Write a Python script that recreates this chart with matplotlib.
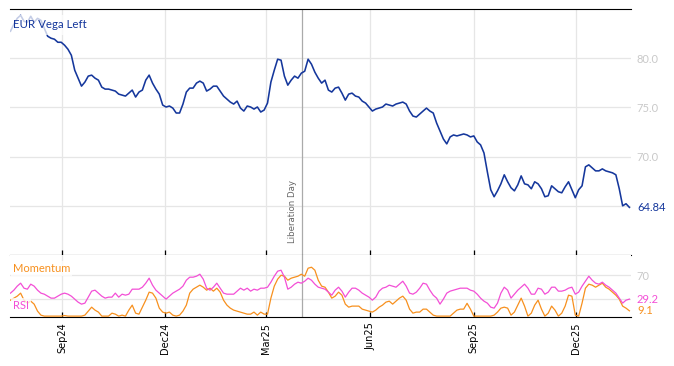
import matplotlib
matplotlib.use("Agg")
import matplotlib.pyplot as plt
import matplotlib.dates as mdates
import matplotlib.transforms as mtransforms
import pandas as pd
import numpy as np

# ---------------- data (one value every 3 days) ----------------
start_date = "2024-07-17"
n_points = 184

vega = [82.74, 83.44, 84.05, 84.36, 83.75, 83.65, 84.26, 83.65, 84.05, 83.85,
        83.04, 82.23, 82.03, 81.93, 81.62, 81.62, 81.32, 80.91, 80.30, 78.78,
        77.97, 77.16, 77.57, 78.18, 78.28, 77.97, 77.77, 77.06, 76.86, 76.86,
        76.76, 76.66, 76.35, 76.25, 76.15, 76.45, 76.76, 76.05, 76.56, 76.76,
        77.77, 78.28, 77.47, 76.86, 76.35, 75.24, 75.04, 75.14, 74.93, 74.43,
        74.43, 75.34, 76.56, 76.96, 76.96, 77.47, 77.67, 77.47, 76.66, 76.86,
        77.16, 77.16, 76.66, 76.15, 75.85, 75.54, 75.34, 75.64, 74.93, 74.63,
        75.14, 75.04, 74.83, 75.04, 74.53, 74.73, 75.44, 77.57, 78.78, 79.90,
        79.80, 78.18, 77.26, 77.77, 78.18, 77.97, 78.48, 78.68, 79.90, 79.39,
        78.58, 77.97, 77.47, 77.77, 76.76, 76.56, 76.96, 77.06, 76.45, 75.74,
        76.35, 76.45, 76.15, 76.05, 75.64, 75.44, 75.04, 74.63, 74.83, 74.93,
        75.04, 75.34, 75.24, 75.14, 75.34, 75.44, 75.54, 75.34, 74.63, 74.12,
        74.02, 74.33, 74.63, 74.93, 74.63, 74.43, 73.41, 72.60, 71.79, 71.29,
        72.00, 72.20, 72.10, 72.20, 72.30, 72.20, 72.00, 72.10, 71.49, 71.19,
        70.37, 68.45, 66.63, 65.92, 66.52, 67.23, 68.15, 67.44, 66.83, 66.52,
        67.13, 68.04, 67.23, 67.13, 66.73, 67.44, 67.23, 66.73, 65.92, 66.02,
        67.03, 66.73, 66.43, 66.32, 66.93, 67.44, 66.63, 65.82, 66.63, 67.03,
        68.96, 69.16, 68.85, 68.55, 68.55, 68.75, 68.55, 68.45, 68.35, 68.15,
        66.73, 65.00, 65.21, 64.84]

rsi = [39.5, 44.6, 51.5, 56.6, 48.0, 46.3, 54.9, 51.5, 44.6, 39.5,
       37.7, 34.3, 30.9, 30.9, 34.3, 37.7, 39.5, 37.7, 34.3, 29.2,
       24.0, 20.6, 22.3, 32.6, 42.9, 44.6, 39.5, 34.3, 30.9, 32.6,
       32.6, 39.5, 32.6, 37.7, 36.0, 37.7, 46.3, 46.3, 46.3, 49.7,
       56.6, 65.2, 53.2, 44.6, 39.5, 34.3, 29.2, 34.3, 39.5, 42.9,
       46.3, 51.5, 61.7, 66.9, 66.9, 68.6, 72.0, 63.5, 48.0, 44.6,
       49.7, 56.6, 48.0, 39.5, 37.7, 37.7, 37.7, 42.9, 48.0, 44.6,
       48.0, 42.9, 46.3, 44.6, 48.0, 48.0, 49.7, 58.3, 68.6, 77.2,
       78.9, 66.9, 46.3, 49.7, 54.9, 58.3, 56.6, 60.0, 65.2, 61.7,
       54.9, 49.7, 48.0, 46.3, 41.2, 36.0, 44.6, 49.7, 42.9, 32.6,
       41.2, 48.0, 48.0, 44.6, 39.5, 36.0, 32.6, 27.4, 32.6, 42.9,
       48.0, 49.7, 53.2, 51.5, 49.7, 54.9, 60.0, 51.5, 39.5, 37.7,
       41.2, 48.0, 56.6, 54.9, 44.6, 36.0, 30.9, 20.6, 29.2, 39.5,
       42.9, 44.6, 46.3, 48.0, 48.0, 48.0, 44.6, 42.9, 37.7, 30.9,
       25.7, 22.3, 15.4, 13.7, 22.3, 39.5, 49.7, 44.6, 30.9, 37.7,
       44.6, 49.7, 54.9, 48.0, 37.7, 37.7, 48.0, 46.3, 37.7, 41.2,
       49.7, 49.7, 42.9, 42.9, 44.6, 48.0, 49.7, 37.7, 41.2, 51.5,
       60.0, 68.6, 61.7, 56.6, 54.9, 58.3, 53.2, 49.7, 44.6, 39.5,
       30.9, 22.3, 27.4, 29.2]

momentum = [27.4, 30.9, 34.3, 39.5, 27.4, 22.3, 25.7, 20.6, 8.6, 1.7,
            0.0, 0.0, 0.0, 0.0, 0.0, 0.0, 1.0, 0.0, 0.0, 0.0,
            0.0, 0.0, 1.7, 8.6, 15.4, 10.3, 6.9, 0.0, 0.0, 0.0,
            5.1, 3.4, 0.0, 1.7, 0.0, 10.3, 18.9, 5.1, 3.4, 15.4,
            27.4, 41.2, 39.5, 30.9, 13.7, 6.9, 5.1, 6.9, 1.7, 0.0,
            1.7, 8.6, 18.9, 39.5, 46.3, 49.7, 53.2, 49.7, 44.6, 48.0,
            42.9, 48.0, 41.2, 27.4, 18.9, 13.7, 10.3, 8.6, 6.9, 5.1,
            3.4, 3.4, 6.9, 1.7, 6.9, 3.4, 3.4, 30.9, 51.5, 63.5,
            70.3, 68.6, 61.7, 65.2, 66.9, 68.6, 72.0, 68.6, 82.3, 84.0,
            78.9, 61.7, 51.5, 49.7, 41.2, 30.9, 34.3, 41.2, 36.0, 20.6,
            15.4, 17.2, 17.2, 17.2, 12.0, 10.3, 8.6, 6.9, 10.3, 15.4,
            18.9, 24.0, 25.7, 20.6, 25.7, 30.9, 34.3, 27.4, 12.0, 5.1,
            6.9, 6.9, 12.0, 12.0, 6.9, 1.7, 0.0, 0.0, 0.0, 0.0,
            0.0, 5.1, 10.3, 12.0, 12.0, 22.0, 12.0, 0.0, 0.0, 0.0,
            0.0, 0.0, 0.0, 1.7, 6.9, 13.7, 15.4, 13.7, 1.7, 6.9,
            18.9, 30.9, 17.2, 0.0, 5.1, 18.9, 27.4, 12.0, 0.0, 5.1,
            17.2, 10.3, 0.0, 5.1, 17.2, 36.0, 34.3, 1.7, 0.0, 22.3,
            48.0, 54.9, 53.2, 49.7, 53.2, 56.6, 49.7, 46.3, 41.2, 36.0,
            29.2, 17.2, 13.7, 9.1]

event_date = "2025-04-02"
event_label = "Liberation Day"
main_label = "EUR Vega Left"
main_yticks = [65, 70, 75, 80]
main_yticklabels = ["", "70.0", "75.0", "80.0"]
low_yticks = [30, 70]
low_yticklabels = ["", "70"]

# ---------------- styling ----------------
BLUE = "#15379c"
PINK = "#f34fd6"
ORANGE = "#f7901e"
GRID = "#e6e6e6"
TICKGRAY = "#c9c9c9"
LABEL_FONT = ["Lato", "DejaVu Sans"]

dates = pd.date_range(start_date, periods=n_points, freq="3D")

fig = plt.figure(figsize=(6.74, 3.66), dpi=100)
W, H = 674, 366
left, right = 10 / W, 631 / W
ax = fig.add_axes([left, 1 - 255 / H, right - left, 246 / H])
axl = fig.add_axes([left, 1 - 317 / H, right - left, 62 / H], sharex=ax)

xmin = mdates.date2num(pd.Timestamp("2024-07-16 14:00"))
xmax = mdates.date2num(pd.Timestamp("2026-01-18 10:00"))

for a in (ax, axl):
    a.set_facecolor("white")
    for s in ("left", "right"):
        a.spines[s].set_visible(False)
    a.grid(True, color=GRID, linewidth=0.9)
    a.set_axisbelow(True)
    a.yaxis.tick_right()
    a.tick_params(axis="y", length=0, pad=4, labelsize=8, labelcolor=TICKGRAY)
    a.tick_params(axis="x", direction="in", length=3.5, width=0.9, color="black")
    a.xaxis.set_major_locator(mdates.MonthLocator(bymonth=[3, 6, 9, 12]))
    a.xaxis.set_major_formatter(mdates.DateFormatter("%b%y"))
    a.axvline(pd.Timestamp(event_date), color="#aaaaaa", linewidth=0.9, zorder=1.5)

ax.spines["top"].set_color("black")
ax.spines["bottom"].set_color("black")
axl.spines["top"].set_visible(False)
axl.spines["bottom"].set_color("black")

# main panel
ax.plot(dates, vega, color=BLUE, linewidth=1.15, zorder=3)
ax.set_xlim(xmin, xmax)
ax.set_ylim(60, 85)
ax.set_yticks(main_yticks)
ax.set_yticklabels(main_yticklabels, fontfamily=LABEL_FONT)
ax.tick_params(axis="x", labelbottom=False)
trans = mtransforms.blended_transform_factory(ax.transAxes, ax.transData)
ax.text(1 + 6 / 621, vega[-1], f"{vega[-1]:.2f}", transform=trans, color=BLUE,
        fontsize=8, va="center", ha="left", fontfamily=LABEL_FONT)
ax.text(3 / 621, 1 - 16 / 246, main_label, transform=ax.transAxes, color=BLUE, fontsize=8.3,
        va="center", ha="left", fontfamily=LABEL_FONT, zorder=5,
        bbox=dict(facecolor="white", alpha=0.75, edgecolor="none", pad=3.5))
ax.text(pd.Timestamp(event_date) - pd.Timedelta(days=9), 61.2, event_label,
        rotation=90, color="#666666", fontsize=6.2, va="bottom", ha="center", zorder=4)

# lower panel
axl.plot(dates, momentum, color=ORANGE, linewidth=0.9, zorder=3)
axl.plot(dates, rsi, color=PINK, linewidth=0.9, zorder=3)
axl.set_ylim(-1.5, 105)
axl.set_yticks(low_yticks)
axl.set_yticklabels(low_yticklabels, fontfamily=LABEL_FONT)
transl = mtransforms.blended_transform_factory(axl.transAxes, axl.transData)
axl.text(1 + 6 / 621, rsi[-1], f"{rsi[-1]:.1f}", transform=transl, color=PINK,
         fontsize=8, va="center", ha="left", fontfamily=LABEL_FONT)
axl.text(1 + 6 / 621, momentum[-1], f"{momentum[-1]:.1f}", transform=transl, color=ORANGE,
         fontsize=8, va="center", ha="left", fontfamily=LABEL_FONT)
axl.text(3 / 621, 0.78, "Momentum", transform=axl.transAxes, color=ORANGE, fontsize=8,
         va="center", ha="left", fontfamily=LABEL_FONT, zorder=5,
         bbox=dict(facecolor="white", alpha=0.75, edgecolor="none", pad=1.5))
axl.text(3 / 621, 0.18, "RSI", transform=axl.transAxes, color=PINK, fontsize=8,
         va="center", ha="left", fontfamily=LABEL_FONT, zorder=5,
         bbox=dict(facecolor="white", alpha=0.75, edgecolor="none", pad=1.5))
axl.tick_params(axis="x", labelsize=7, labelcolor="black", pad=4, labelrotation=90)

fig.savefig("out.png", dpi=100)
